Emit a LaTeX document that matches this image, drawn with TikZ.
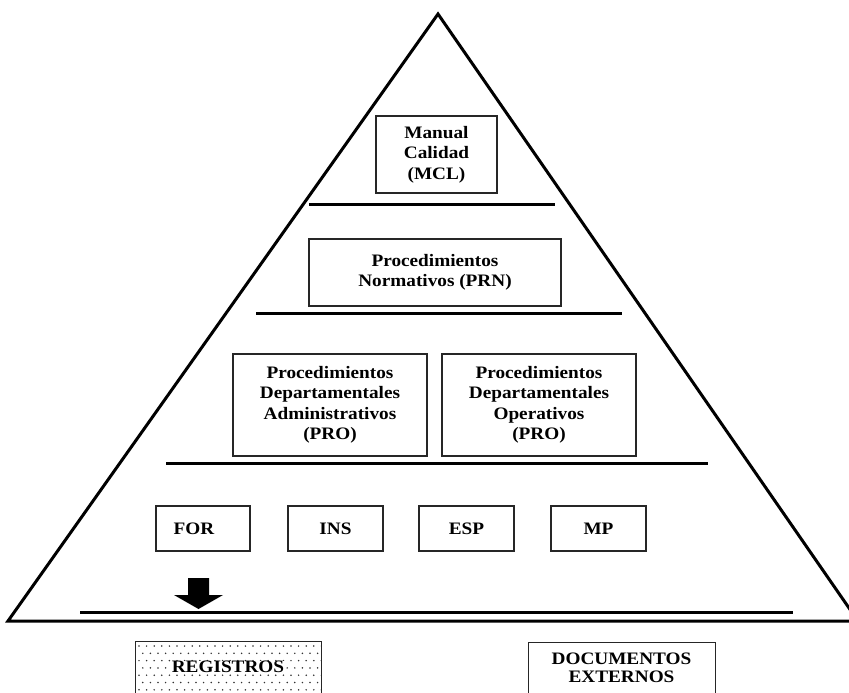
\documentclass[tikz,border=0pt]{standalone}
\usepackage{fontspec}
\setmainfont{Liberation Serif}[FakeStretch=1.1]
\begin{document}
\begin{tikzpicture}[x=1pt,y=-1pt,
  docbox/.style={draw=black!85, line width=1.1pt, inner sep=0pt, align=center,
    font=\fontsize{17.5}{20.5}\selectfont\bfseries},
  levelline/.style={line width=3pt},
  doctext/.style={inner sep=0pt, align=center, font=\fontsize{17.5}{18}\selectfont\bfseries}]
\useasboundingbox (0,0) rectangle (849,693);

% pyramid outline
\draw[line width=3pt, line join=miter] (8,621) -- (438,14) -- (858,621) -- cycle;

% level separators
\draw[levelline] (309,204) -- (555,204);
\draw[levelline] (256,313) -- (622,313);
\draw[levelline] (166,463) -- (708,463);
\draw[levelline] (80,612.5) -- (793,612.5);

% level 1
\node[docbox, minimum width=121, minimum height=77] (mcl) at (436.5,154.5)
  {Manual\\Calidad\\(MCL)};

% level 2
\node[docbox, minimum width=252, minimum height=67] (prn) at (435,272.5)
  {Procedimientos\\Normativos (PRN)};

% level 3
\node[docbox, minimum width=194, minimum height=102] (proa) at (330,405)
  {Procedimientos\\Departamentales\\Administrativos\\(PRO)};
\node[docbox, minimum width=194, minimum height=102] (proo) at (539,405)
  {Procedimientos\\Departamentales\\Operativos\\(PRO)};

% level 4
\node[docbox, minimum width=94, minimum height=45] (for) at (203,528.5) {FOR\hspace*{18pt}};
\node[docbox, minimum width=95, minimum height=45] (ins) at (335.5,528.5) {INS};
\node[docbox, minimum width=95, minimum height=45] (esp) at (466.5,528.5) {ESP};
\node[docbox, minimum width=95, minimum height=45] (mp) at (598.5,528.5) {MP};

% block arrow towards the records
\fill (188,578) -- (209,578) -- (209,595) -- (223,595) -- (198.5,609)
  -- (174,595) -- (188,595) -- cycle;

% records box with dotted fill
\begin{scope}
  \clip (135,641) rectangle (321,705);
  \foreach \r in {0,...,8} {
    \pgfmathsetmacro{\yy}{646+7.3*\r}
    \pgfmathsetmacro{\off}{mod(\r,2)*3.8}
    \foreach \c in {0,...,24} {
      \fill[black!80] ({139+\off+7.6*\c},\yy) circle (0.85pt);
    }
  }
\end{scope}
\node[docbox, anchor=north west, minimum width=186, minimum height=64] (regbox) at (135,641) {};
\node[doctext, fill=white, inner sep=0.6pt] (reg) at (228,667) {REGISTROS};

% external documents box
\node[docbox, anchor=north west, minimum width=187, minimum height=64] (extbox) at (528,642) {};
\node[doctext] (ext) at (621.5,668) {DOCUMENTOS\\EXTERNOS};
\end{tikzpicture}
\end{document}
